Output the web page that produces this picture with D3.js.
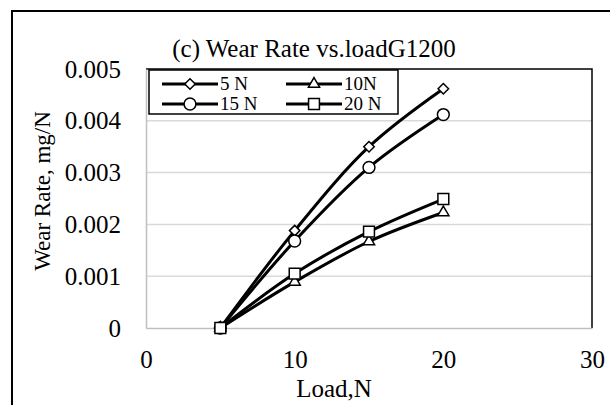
<!DOCTYPE html>
<html>
<head>
<meta charset="utf-8">
<script src="https://cdn.jsdelivr.net/npm/d3@7"></script>
<style>
    body { margin: 0; background: #fff; }
    text { font-family: "Liberation Serif", "Times New Roman", serif; fill: #000; }
</style>
</head>
<body>
<div id="chart"></div>
<script>
// loads (x values) and wear rate for each applied load series
const loads = [5, 10, 15, 20];
const seriesNames = ["5 N", "10N", "15 N", "20 N"];
const wear5N = [0, 0.00188, 0.0035, 0.00462];
const wear10N = [0, 0.00089, 0.00167, 0.00223];
const wear15N = [0, 0.00168, 0.0031, 0.00412];
const wear20N = [0, 0.00105, 0.00186, 0.00249];
const markers = ["diamond", "triangle", "circle", "square"];
const xTicks = [0, 10, 20, 30];
const yTicks = [0, 0.001, 0.002, 0.003, 0.004, 0.005];

const series = [wear5N, wear10N, wear15N, wear20N].map((vals, i) => ({
    name: seriesNames[i],
    marker: markers[i],
    points: loads.map((x, j) => ({ x: x, y: vals[j] }))
}));

const W = 610, H = 405;
const margin = { top: 69, right: 18, bottom: 77, left: 146 };
const width = W - margin.left - margin.right;
const height = H - margin.top - margin.bottom;

const svg = d3.select("#chart")
    .append("svg")
    .attr("width", W)
    .attr("height", H);

// outer chart frame (runs off the bottom/right of the window)
svg.append("rect")
    .attr("x", 12).attr("y", 11)
    .attr("width", 620).attr("height", 420)
    .attr("fill", "none")
    .attr("stroke", "#000")
    .attr("stroke-width", 2);

const g = svg.append("g")
    .attr("transform", "translate(" + margin.left + "," + margin.top + ")");

const xScale = d3.scaleLinear().domain([0, 30]).range([0, width]);
const yScale = d3.scaleLinear().domain([0, 0.005]).range([height, 0]);

// gridlines
g.selectAll(".grid")
    .data(yTicks.slice(1, -1))
    .enter().append("line")
    .attr("x1", 0).attr("x2", width)
    .attr("y1", d => yScale(d)).attr("y2", d => yScale(d))
    .attr("stroke", "#d9d9d9")
    .attr("stroke-width", 1.5);

// plot area border (black top/right)
g.append("path")
    .attr("d", "M0,0H" + width + "V" + height)
    .attr("fill", "none")
    .attr("stroke", "#000")
    .attr("stroke-width", 1.5);

// axes
const xAxis = g.append("g")
    .attr("transform", "translate(0," + height + ")")
    .call(d3.axisBottom(xScale).tickValues(xTicks).tickSize(0).tickPadding(22));
const yAxis = g.append("g")
    .call(d3.axisLeft(yScale).tickValues(yTicks).tickSize(0).tickPadding(25)
        .tickFormat(d => d === 0 ? "0" : d3.format(".3f")(d)));

[xAxis, yAxis].forEach(a => {
    a.attr("font-family", null).attr("font-size", null);
    a.select(".domain").attr("stroke", "#bfbfbf").attr("stroke-width", 1.5);
    a.selectAll("text").style("font-size", "25px");
});

// lines
const line = d3.line()
    .x(d => xScale(d.x))
    .y(d => yScale(d.y))
    .curve(d3.curveCatmullRom.alpha(0.5));

g.selectAll(".series")
    .data(series)
    .enter().append("path")
    .attr("class", "series")
    .attr("d", d => line(d.points))
    .attr("fill", "none")
    .attr("stroke", "#000")
    .attr("stroke-width", 3);

const symbolFor = {
    diamond: d3.symbol().type(d3.symbolDiamond2).size(70),
    triangle: d3.symbol().type(d3.symbolTriangle2).size(90),
    circle: d3.symbol().type(d3.symbolCircle).size(110),
    square: d3.symbol().type(d3.symbolSquare2).size(150)
};

function drawMarker(sel, type) {
    sel.append("path")
        .attr("d", symbolFor[type]())
        .attr("fill", "#fff")
        .attr("stroke", "#000")
        .attr("stroke-width", 1.5);
}

series.forEach(s => {
    s.points.forEach(p => {
        const m = g.append("g")
            .attr("transform", "translate(" + xScale(p.x) + "," + yScale(p.y) + ")");
        drawMarker(m, s.marker);
    });
});

// axis titles
svg.append("text")
    .attr("x", 334)
    .attr("y", 397)
    .attr("text-anchor", "middle")
    .style("font-size", "25px")
    .text("Load,N");

svg.append("text")
    .attr("transform", "rotate(-90)")
    .attr("x", -191)
    .attr("y", 50)
    .attr("text-anchor", "middle")
    .style("font-size", "23px")
    .text("Wear Rate, mg/N");

// title
svg.append("text")
    .attr("x", 314)
    .attr("y", 57)
    .attr("text-anchor", "middle")
    .style("font-size", "25px")
    .text("(c) Wear Rate vs.loadG1200");

// legend
const legend = svg.append("g").attr("transform", "translate(149,70)");
legend.append("rect")
    .attr("width", 249).attr("height", 44)
    .attr("fill", "#fff")
    .attr("stroke", "#000")
    .attr("stroke-width", 1.5);

const legendPos = [[13, 14], [137, 14], [13, 34], [137, 34]];
series.forEach((s, i) => {
    const item = legend.append("g")
        .attr("transform", "translate(" + legendPos[i][0] + "," + legendPos[i][1] + ")");
    item.append("line")
        .attr("x1", 0).attr("x2", 56)
        .attr("stroke", "#000").attr("stroke-width", 3);
    drawMarker(item.append("g").attr("transform", "translate(28,0)"), s.marker);
    item.append("text")
        .attr("x", 58)
        .attr("y", 6)
        .style("font-size", "19px")
        .text(s.name);
});
</script>
</body>
</html>
